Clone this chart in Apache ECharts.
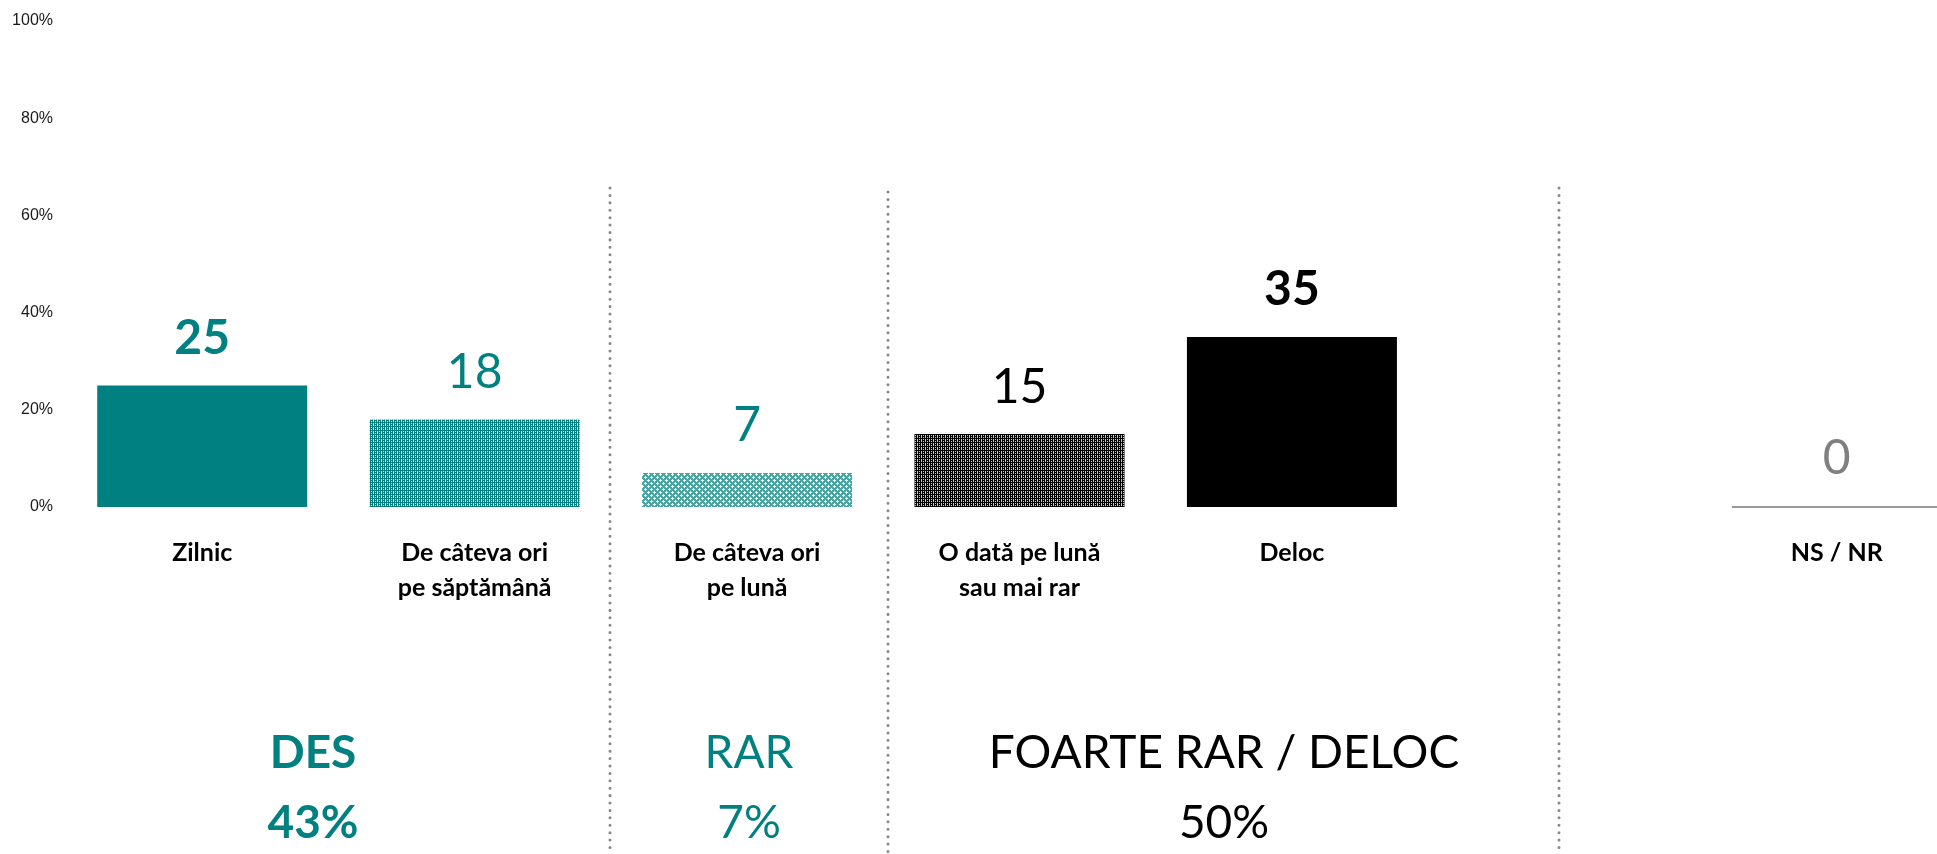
<!DOCTYPE html>
<html>
<head>
<meta charset="utf-8">
<script src="https://cdn.jsdelivr.net/npm/echarts@6/dist/echarts.min.js"></script>
<style>
  html, body { margin: 0; padding: 0; background: #fff; }
  #chart { width: 1937px; height: 854px; }
</style>
</head>
<body>
<div id="chart"></div>
<script>
// categorii (a 6-a e goala, spatiu inainte de NS / NR)
var categories = ['Zilnic', 'De câteva ori\npe săptămână', 'De câteva ori\npe lună', 'O dată pe lună\nsau mai rar', 'Deloc', '', 'NS / NR'];
var values = [25, 18, 7, 15, 35, null, 0];
var yTicks = [0, 20, 40, 60, 80, 100];
// grupuri: nume + indicii categoriilor care intra in total
var groupNames = ['DES', 'RAR', 'FOARTE RAR / DELOC'];
var groupMembers = [[0, 1], [2], [3, 4]];

var TEAL = '#008080';

// texturi pentru bare
function tile(w, h, bg, fg, pts) {
    var c = document.createElement('canvas');
    c.width = w; c.height = h;
    var ctx = c.getContext('2d');
    ctx.fillStyle = bg;
    ctx.fillRect(0, 0, w, h);
    ctx.fillStyle = fg;
    pts.forEach(function (p) { ctx.fillRect(p[0], p[1], 1, 1); });
    return c;
}
var dotsTeal = tile(4, 4, TEAL, 'rgba(235,245,245,0.85)', [[1, 1], [3, 1], [1, 3], [3, 3], [1, 0]]);
var crossTeal = tile(6, 6, '#4aa6a3', '#ffffff', [[3, 2], [2, 3], [3, 3], [4, 3], [3, 4], [0, 0], [1, 0], [5, 0], [0, 1], [0, 5]]);
var dotsBlack = tile(4, 4, '#000000', 'rgba(220,220,220,0.9)', [[1, 1], [3, 1], [1, 3], [3, 3], [1, 0]]);

var barStyles = [
    { color: TEAL, label: { color: TEAL, fontWeight: 'bold' } },
    { color: { image: dotsTeal, repeat: 'repeat' }, label: { color: TEAL, fontWeight: 'normal' } },
    { color: { image: crossTeal, repeat: 'repeat' }, label: { color: TEAL, fontWeight: 'normal' } },
    { color: { image: dotsBlack, repeat: 'repeat' }, label: { color: '#000', fontWeight: 'normal' } },
    { color: '#000', label: { color: '#000', fontWeight: 'bold' } },
    { color: 'transparent', label: { color: '#fff', fontWeight: 'normal' } },
    { color: 'transparent', borderColor: '#999', borderWidth: 2, label: { color: '#808080', fontWeight: 'normal' } }
];

var seriesData = values.map(function (v, i) {
    var s = barStyles[i];
    return {
        value: v,
        itemStyle: { color: s.color, borderColor: s.borderColor || 'transparent', borderWidth: s.borderWidth || 0 },
        label: s.label
    };
});

var chart = echarts.init(document.getElementById('chart'));

// texte de grup sub grafic
var groupX = [313, 749, 1224];
var groupColor = [TEAL, TEAL, '#000'];
var groupWeight = ['bold', 'normal', 'normal'];
var graphics = [];
groupNames.forEach(function (name, g) {
    var sum = groupMembers[g].reduce(function (a, i) { return a + values[i]; }, 0);
    var font = groupWeight[g] + ' 46px Lato';
    graphics.push({ type: 'text', x: groupX[g], y: 753, style: { text: name, font: font, fill: groupColor[g], textAlign: 'center', textVerticalAlign: 'middle' } });
    graphics.push({ type: 'text', x: groupX[g], y: 823, style: { text: sum + '%', font: font, fill: groupColor[g], textAlign: 'center', textVerticalAlign: 'middle' } });
});
// separatoare punctate
[[610, 188], [888, 192], [1559, 188]].forEach(function (p) {
    graphics.push({
        type: 'line', silent: true,
        shape: { x1: p[0], y1: p[1], x2: p[0], y2: 854 },
        style: { stroke: '#888', lineWidth: 3, lineDash: [0.01, 7.4], lineCap: 'round' }
    });
});

chart.setOption({
    animation: false,
    grid: { left: 66, top: 21, bottom: 347, width: 1907, outerBoundsMode: 'none', containLabel: false },
    xAxis: {
        type: 'category',
        data: categories,
        axisLine: { show: false },
        axisTick: { show: false },
        axisLabel: {
            interval: 0, margin: 28,
            fontFamily: 'Lato', fontWeight: 'bold', fontSize: 25, lineHeight: 35, color: '#000'
        }
    },
    yAxis: {
        type: 'value',
        min: yTicks[0], max: yTicks[yTicks.length - 1], interval: 20,
        splitLine: { show: false },
        axisLine: { show: false },
        axisTick: { show: false },
        axisLabel: {
            formatter: '{value}%', margin: 13,
            fontFamily: 'Liberation Sans', fontSize: 16, color: '#1a1a1a'
        }
    },
    series: [{
        type: 'bar',
        barWidth: 210,
        data: seriesData,
        label: {
            show: true, position: 'top', distance: 23,
            fontFamily: 'Lato', fontSize: 48
        }
    }],
    graphic: graphics
});
</script>
</body>
</html>
